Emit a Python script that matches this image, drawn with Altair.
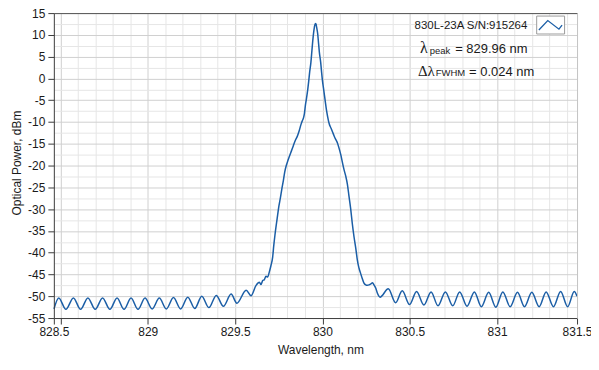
import altair as alt
import pandas as pd

# ---- spectrum (wavelength in nm, optical power in dBm) ----
wavelength_nm = [
    828.463, 828.490, 828.531, 828.574, 828.615, 828.657, 828.699, 828.741, 828.783, 828.824,
    828.864, 828.904, 828.944, 828.984, 829.025, 829.066, 829.106, 829.147, 829.188, 829.229,
    829.269, 829.309, 829.350, 829.392, 829.433, 829.477, 829.510, 829.563, 829.591,
    829.620, 829.639, 829.648, 829.658, 829.667, 829.677, 829.686, 829.696, 829.705, 829.715,
    829.721, 829.728, 829.736, 829.743, 829.750, 829.759, 829.767, 829.776, 829.784, 829.793,
    829.801, 829.810, 829.821, 829.833, 829.844, 829.856, 829.867, 829.877, 829.884, 829.892,
    829.897, 829.903, 829.909, 829.916, 829.921, 829.927, 829.934, 829.940, 829.947, 829.954,
    829.959, 829.963, 829.967, 829.973, 829.978, 829.983, 829.990, 829.995, 830.001, 830.007,
    830.013, 830.017, 830.023, 830.030, 830.038, 830.050, 830.058, 830.067, 830.076, 830.086,
    830.095, 830.105, 830.114, 830.124, 830.134, 830.143, 830.152, 830.162, 830.171, 830.181,
    830.191, 830.200, 830.209, 830.219, 830.228, 830.238, 830.248, 830.257, 830.267, 830.276,
    830.287, 830.295, 830.305, 830.315, 830.330,
    830.377, 830.419, 830.457, 830.499, 830.539, 830.581, 830.622, 830.662, 830.704, 830.746,
    830.786, 830.828, 830.870, 830.910, 830.952, 830.993, 831.033, 831.075, 831.117, 831.157,
    831.199, 831.241, 831.281, 831.323, 831.364, 831.404, 831.442, 831.458,
]
power_dbm = [
    -52.9, -50.4, -53.0, -50.4, -53.0, -50.4, -53.0, -50.4, -53.0, -50.4,
    -53.0, -50.4, -53.0, -50.4, -52.9, -50.4, -52.9, -50.3, -52.9, -50.2,
    -52.8, -50.0, -52.6, -49.8, -52.3, -49.5, -51.6, -48.6, -49.9,
    -47.5, -46.8, -47.3, -46.4, -46.2, -45.4, -45.6, -44.4, -43.0, -41.0,
    -38.5, -36.0, -33.5, -31.5, -29.5, -27.5, -25.5, -23.5, -21.5, -20.0,
    -19.0, -18.0, -16.8, -15.5, -14.3, -13.3, -12.0, -10.6, -9.8, -9.0,
    -8.0, -6.0, -4.5, -2.5, -0.8, 1.5, 3.7, 6.5, 9.6, 11.8,
    12.6, 12.5, 11.7, 10.2, 8.0, 5.8, 3.7, 1.5, -0.8, -2.5,
    -4.3, -5.5, -7.2, -8.8, -10.3, -11.5, -12.3, -13.2, -14.0, -14.8,
    -16.0, -17.5, -19.2, -21.0, -22.5, -24.3, -27.0, -30.0, -33.3, -36.4,
    -39.0, -41.7, -43.5, -44.8, -45.9, -47.0, -47.4, -47.5, -47.4, -47.2,
    -46.9, -47.4, -48.1, -49.3, -50.2,
    -48.3, -51.5, -48.75, -51.9, -48.9, -52.0, -49.0, -52.2, -49.0, -52.2,
    -49.0, -52.3, -49.0, -52.4, -49.1, -52.5, -49.0, -52.4, -49.1, -52.4,
    -49.1, -52.4, -49.0, -52.4, -48.9, -52.4, -48.9, -50.0,
]

# ---- axes / grid ----
x_domain = [828.462, 831.458]
y_domain = [-55, 15]
x_labeled = [828.462, 828.5, 829.0, 829.5, 830.0, 830.5, 831.0, 831.458]
x_major = [828.5, 829.0, 829.5, 830.0, 830.5, 831.0]
x_minor = [828.6, 828.7, 828.8, 828.9, 829.1, 829.2, 829.3, 829.4, 829.6, 829.7, 829.8, 829.9,
           830.1, 830.2, 830.3, 830.4, 830.6, 830.7, 830.8, 830.9, 831.1, 831.2, 831.3, 831.4]
y_major = [-55, -50, -45, -40, -35, -30, -25, -20, -15, -10, -5, 0, 5, 10, 15]
y_minor = [-52.5, -47.5, -42.5, -37.5, -32.5, -27.5, -22.5, -17.5, -12.5, -7.5, -2.5, 2.5, 7.5, 12.5]

# ---- texts ----
x_title = "Wavelength, nm"
y_title = "Optical Power, dBm"
legend_label = "830L-23A S/N:915264"
peak_symbol, peak_sub, peak_value = "λ", "peak", "= 829.96 nm"
fwhm_symbol, fwhm_sub, fwhm_value = "Δλ", "FWHM", "= 0.024 nm"

FONT = "Liberation Sans"
LINE_BLUE = "#1b5ea6"
AXIS_DARK = "#3c3c3c"
TEXT = "#1a1a1a"

df = pd.DataFrame({"wl": wavelength_nm, "p": power_dbm})
one = pd.DataFrame({"k": [0]})

xscale = alt.Scale(domain=x_domain, nice=False, zero=False)
yscale = alt.Scale(domain=y_domain, nice=False, zero=False)


def grid_axis(orient, values, color):
    return alt.Axis(orient=orient, values=values, grid=True, gridColor=color, gridWidth=1,
                    domain=False, ticks=False, labels=False, title=None, zindex=0)


minor = alt.Chart(df).mark_line(opacity=0).encode(
    x=alt.X("wl:Q", scale=xscale, axis=grid_axis("bottom", x_minor, "#e6e6e6")),
    y=alt.Y("p:Q", scale=yscale, axis=grid_axis("left", y_minor, "#e6e6e6")),
)
major = alt.Chart(df).mark_line(opacity=0).encode(
    x=alt.X("wl:Q", scale=xscale, axis=grid_axis("bottom", x_major, "#d0d0d0")),
    y=alt.Y("p:Q", scale=yscale, axis=grid_axis("left", y_major, "#d0d0d0")),
)

line = alt.Chart(df).mark_line(color=LINE_BLUE, strokeWidth=1.5, interpolate="monotone").encode(
    x=alt.X("wl:Q", scale=xscale, axis=alt.Axis(
        orient="bottom", values=x_labeled, grid=False,
        domain=True, domainColor=AXIS_DARK, domainWidth=1,
        ticks=True, tickColor=AXIS_DARK, tickSize=6, tickWidth=1,
        labelExpr="abs(datum.value - 828.5) < 0.001 ? '' : format(datum.value, '.1~f')",
        labelFont=FONT, labelFontSize=12, labelColor=TEXT, labelPadding=3,
        labelOverlap=False, labelFlush=False,
        title=x_title, titleFont=FONT, titleFontSize=12, titleFontWeight="normal",
        titleColor=TEXT, titleX=267.5, titleY=35.5, titleBaseline="alphabetic",
        titleAlign="center", zindex=1)),
    y=alt.Y("p:Q", scale=yscale, axis=alt.Axis(
        orient="left", values=y_major, grid=False,
        domain=True, domainColor=AXIS_DARK, domainWidth=1,
        ticks=True, tickColor=AXIS_DARK, tickSize=6, tickWidth=1,
        labelExpr="'' + datum.value",
        labelFont=FONT, labelFontSize=12, labelColor=TEXT, labelPadding=3,
        labelOverlap=False, labelFlush=False, labelBaseline="middle",
        title=y_title, titleFont=FONT, titleFontSize=12, titleFontWeight="normal",
        titleColor=TEXT, titleX=-33.5, titleY=150, titleAngle=270,
        titleBaseline="alphabetic", titleAlign="center", zindex=1)),
)

border = alt.Chart(df).mark_line(opacity=0).encode(
    x=alt.X("wl:Q", scale=xscale, axis=alt.Axis(
        orient="top", grid=False, ticks=False, labels=False, domain=True,
        domainColor="#555555", domainWidth=1, title=None, zindex=1)),
    y=alt.Y("p:Q", scale=yscale, axis=alt.Axis(
        orient="right", grid=False, ticks=False, labels=False, domain=True,
        domainColor="#c4c4c4", domainWidth=1, title=None, zindex=1)),
)


def label(text, x, y, size, font=FONT):
    return alt.Chart(one).mark_text(
        align="left", baseline="alphabetic", font=font, fontSize=size, color=TEXT
    ).encode(x=alt.value(x), y=alt.value(y), text=alt.value(text))


legend_text = label(legend_label, 362, 15.8, 11.5)
icon_box = alt.Chart(one).mark_rect(fill="white", stroke="#9c9c9c", strokeWidth=1).encode(
    x=alt.value(484.5), x2=alt.value(512.5), y=alt.value(3), y2=alt.value(21)
)
icon_line = alt.Chart(one).mark_point(
    shape="M-0.95,0.4L-0.23,-0.36L0.67,0.33L0.92,0", filled=False, size=620,
    strokeWidth=1.3, color=LINE_BLUE, opacity=1
).encode(x=alt.value(498.5), y=alt.value(12))

ann = [
    label(peak_symbol, 367.5, 40.2, 16, "Liberation Serif"),
    label(peak_sub, 377.2, 41, 9.5),
    label(peak_value, 402.7, 40.2, 13),
    label(fwhm_symbol, 365.3, 63.5, 15, "Liberation Serif"),
    label(fwhm_sub, 383.3, 63, 9.5),
    label(fwhm_value, 416.7, 63.5, 13),
]

chart = alt.layer(minor, major, line, border, icon_box, icon_line, legend_text, *ann).resolve_axis(
    x="independent", y="independent"
).properties(
    width=525, height=306,
    autosize=alt.AutoSizeParams(type="none"),
    padding={"left": 46, "top": 4.5, "right": 14, "bottom": 42},
    background="white",
).configure_view(stroke="transparent")

chart.save("out.html", embed_options={"renderer": "svg", "actions": False})
